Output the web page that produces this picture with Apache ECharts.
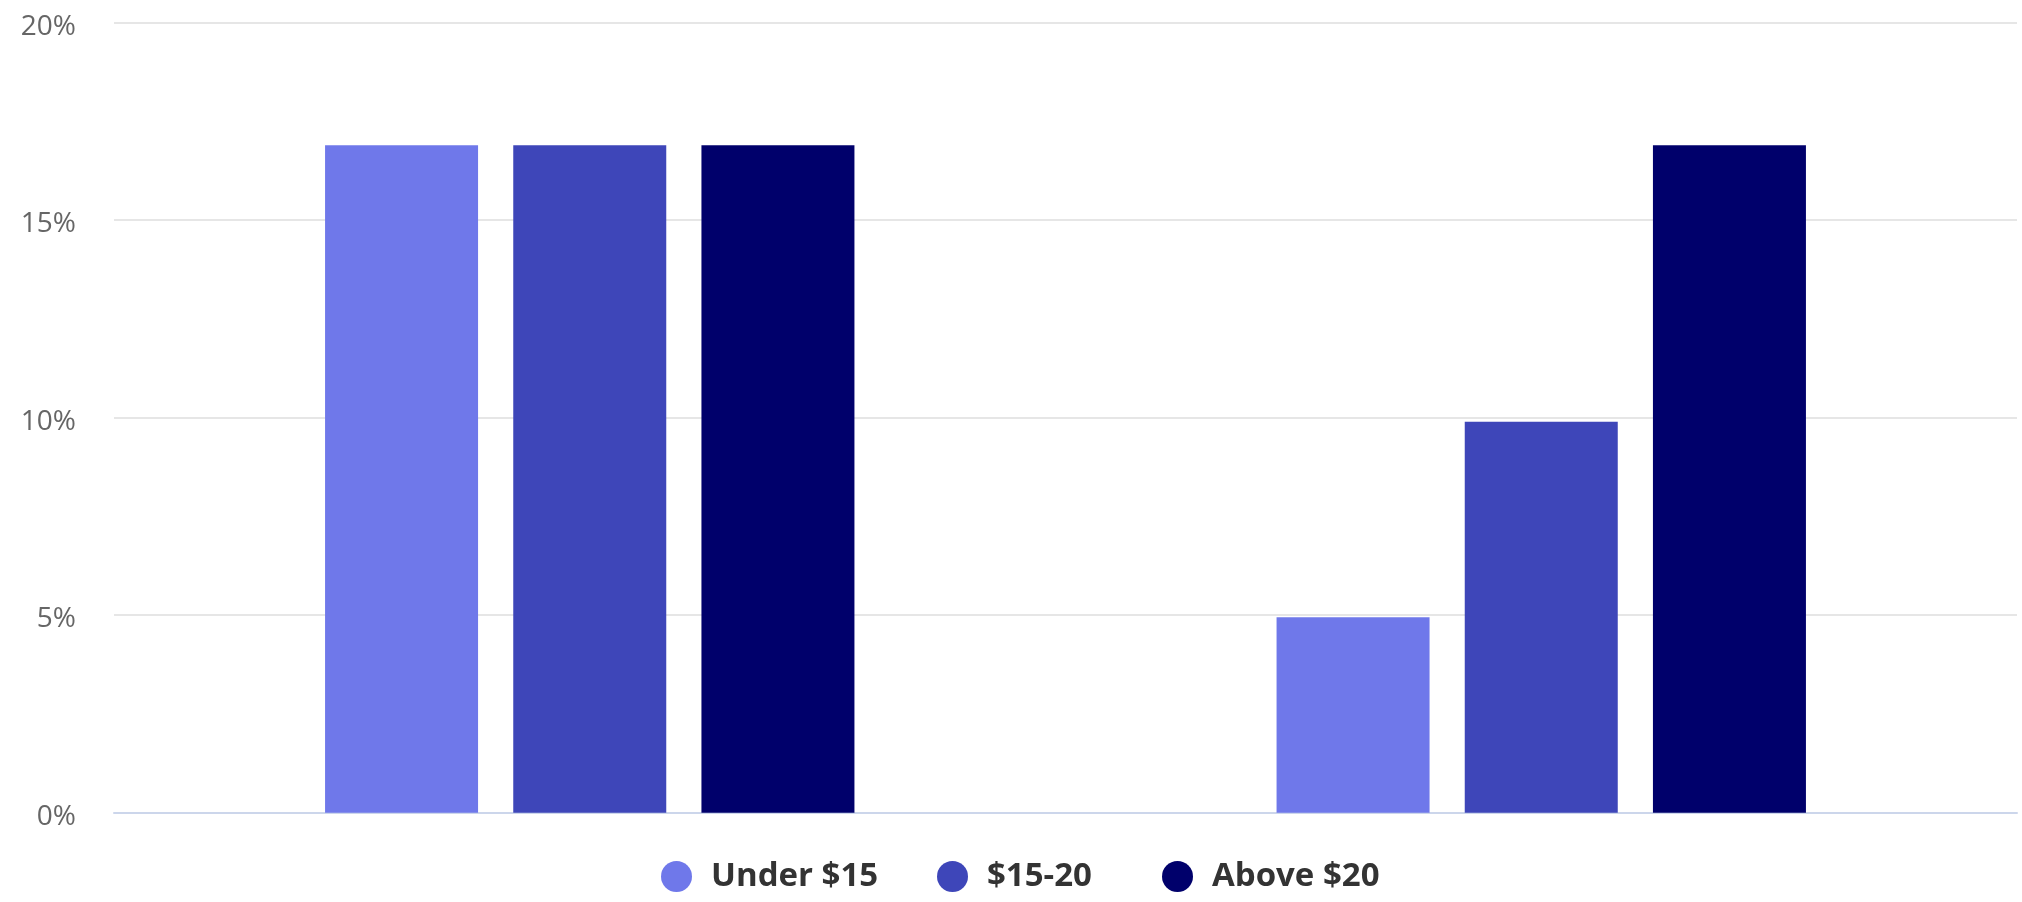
<!DOCTYPE html>
<html>
<head>
<meta charset="utf-8">
<script src="https://cdn.jsdelivr.net/npm/echarts@6/dist/echarts.min.js"></script>
<style>
  html, body { margin: 0; padding: 0; background: #ffffff; }
  #chart { width: 2022px; height: 902px; }
</style>
</head>
<body>
<div id="chart"></div>
<script>
// ---- data ----
const categories = ['Group A', 'Group B'];
const seriesNames = ['Under $15', '$15-20', 'Above $20'];
const under15 = [16.9, 4.95];
const from15to20 = [16.9, 9.9];
const above20 = [16.9, 16.9];
const yTicks = { min: 0, max: 20, interval: 5 };
const colors = ['#6F78EA', '#3E46B9', '#00006B'];

const chart = echarts.init(document.getElementById('chart'), null, { renderer: 'canvas' });

const values = [under15, from15to20, above20];
const legendLefts = [661, 937, 1162];

const option = {
  backgroundColor: '#ffffff',
  animation: false,
  color: colors,
  grid: { left: 114, right: 5, top: 22.7, bottom: 89.3, containLabel: false },
  legend: seriesNames.map((n, i) => ({
    data: [n],
    left: legendLefts[i],
    top: 860,
    padding: 0,
    icon: 'circle',
    itemWidth: 31,
    itemHeight: 31,
    textStyle: {
      fontFamily: 'Open Sans',
      fontWeight: 'bold',
      fontSize: 33,
      color: '#333333',
      padding: [0, 0, 0, 14]
    }
  })),
  xAxis: {
    type: 'category',
    data: categories,
    axisLine: { show: true, lineStyle: { color: '#ccd6eb', width: 2 } },
    axisTick: { show: false },
    axisLabel: { show: false },
    splitLine: { show: false }
  },
  yAxis: {
    type: 'value',
    min: yTicks.min,
    max: yTicks.max,
    interval: yTicks.interval,
    axisLine: { show: false },
    axisTick: { show: false },
    axisLabel: {
      formatter: '{value}%',
      fontFamily: 'Open Sans',
      fontSize: 28,
      color: '#666666',
      margin: 38,
      verticalAlign: 'top',
      lineHeight: 8
    },
    splitLine: { lineStyle: { color: '#e6e6e6', width: 2 } }
  },
  series: seriesNames.map((name, i) => ({
    name: name,
    type: 'bar',
    data: values[i],
    barWidth: 153,
    barGap: '23%',
    itemStyle: { color: colors[i] }
  }))
};

chart.setOption(option);
</script>
</body>
</html>
